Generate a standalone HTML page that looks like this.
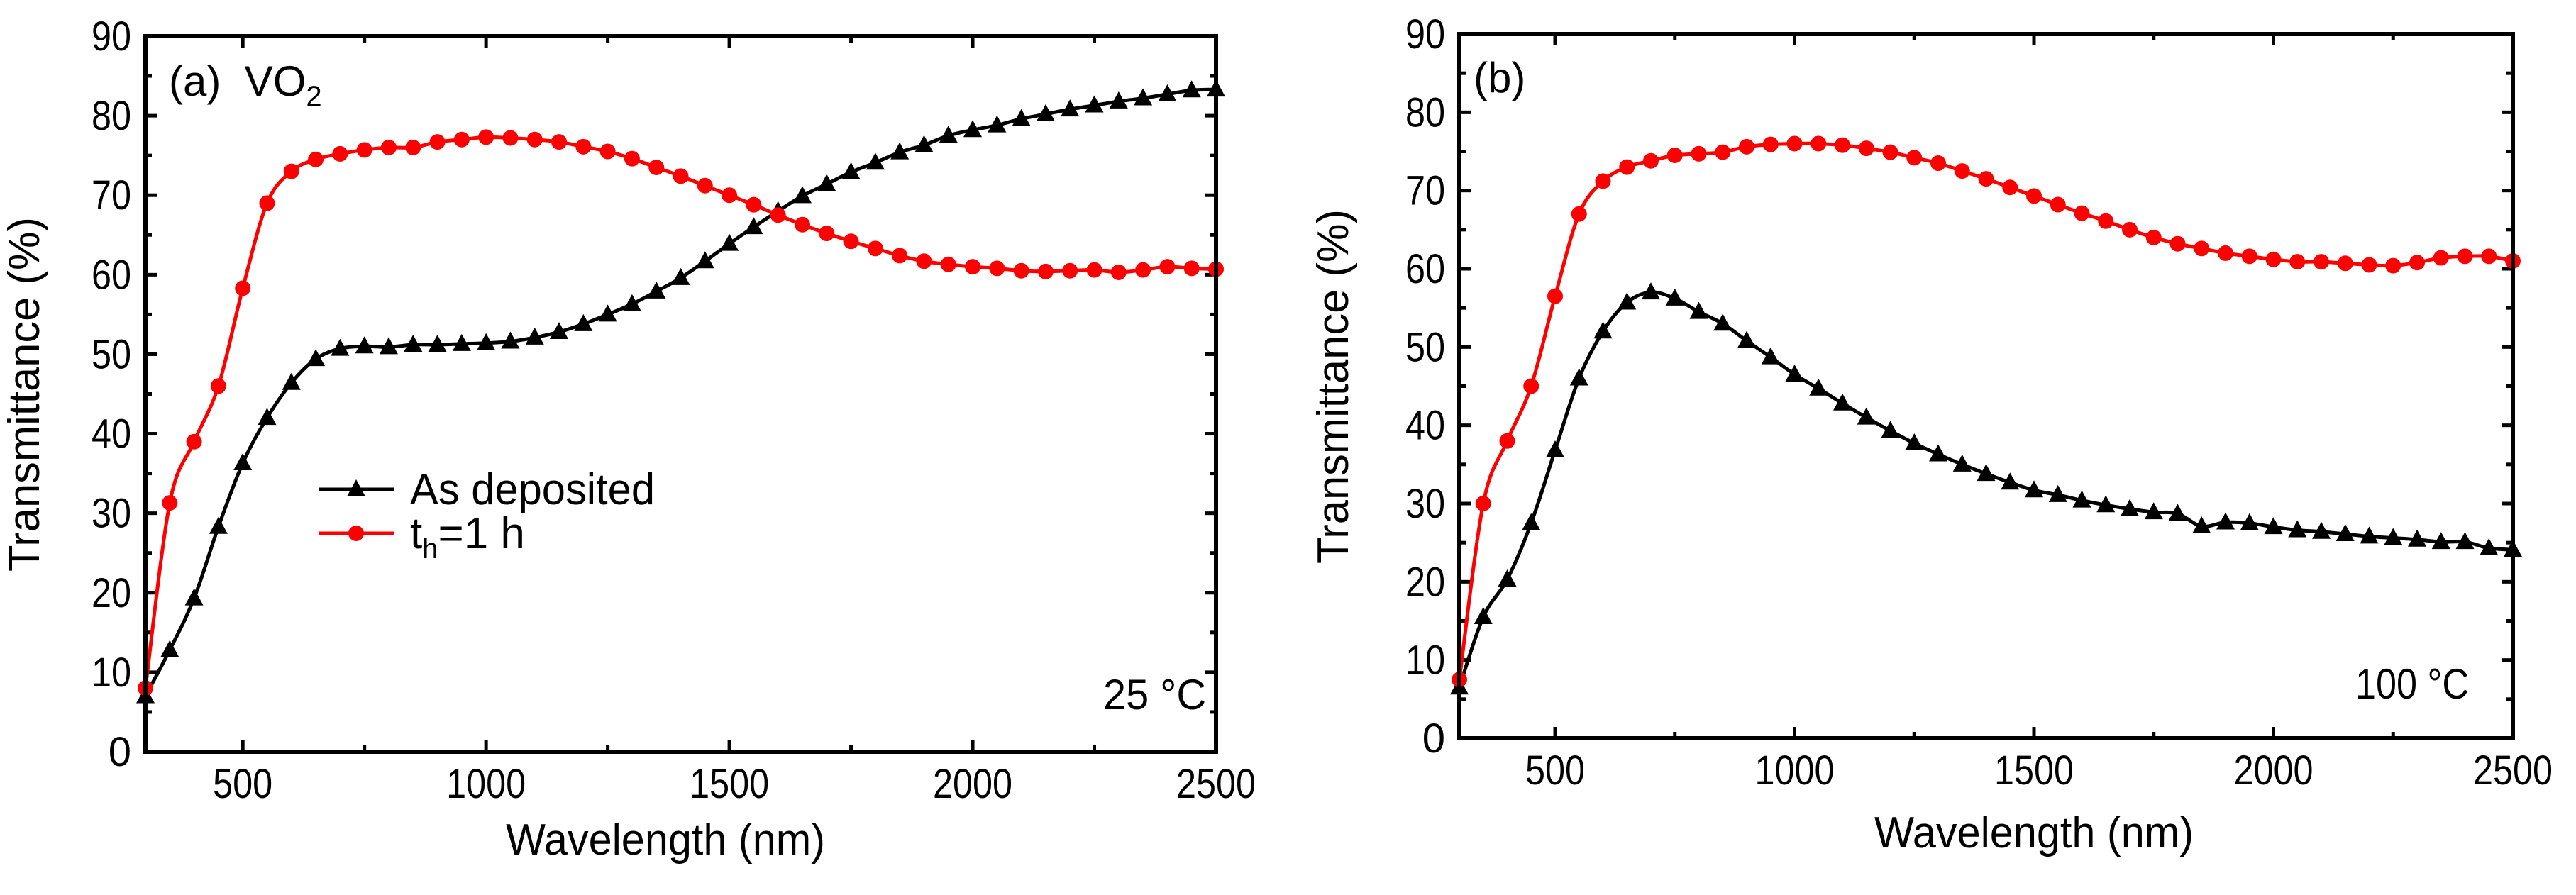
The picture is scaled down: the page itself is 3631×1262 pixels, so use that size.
<!DOCTYPE html>
<html><head><meta charset="utf-8"><style>
html,body{margin:0;padding:0;background:#fff;}
svg text{font-family:"Liberation Sans",sans-serif;fill:#000;}
</style></head><body>
<svg id="chart" width="3631" height="1257" viewBox="0 0 3631 1257" xmlns="http://www.w3.org/2000/svg"></svg>
<script>
const wavelengths = [300,350,400,450,500,550,600,650,700,750,800,850,900,950,1000,1050,1100,1150,1200,1250,1300,1350,1400,1450,1500,1550,1600,1650,1700,1750,1800,1850,1900,1950,2000,2050,2100,2150,2200,2250,2300,2350,2400,2450,2500];
const redA = [8,31.3,39,46,58.3,69,73,74.5,75.2,75.7,76,76,76.7,77,77.3,77.2,77,76.7,76.1,75.5,74.6,73.5,72.4,71.2,70,68.8,67.5,66.3,65.2,64.2,63.3,62.4,61.7,61.3,61,60.8,60.5,60.4,60.5,60.6,60.3,60.6,61,60.8,60.7];
const blackA = [7,12.8,19.3,28.3,36.3,42,46.4,49.4,50.7,51,50.9,51.2,51.2,51.3,51.4,51.6,52.1,52.8,53.8,55,56.3,57.9,59.6,61.7,63.9,66,68,69.9,71.4,72.9,74.1,75.4,76.3,77.5,78.2,78.8,79.6,80.2,80.8,81.3,81.8,82.2,82.7,83.2,83.3];
const redB = [7.5,30,38,45,56.5,67,71.2,73,73.8,74.5,74.7,74.9,75.6,75.9,76,76,75.8,75.4,74.9,74.2,73.5,72.5,71.5,70.4,69.3,68.2,67.1,66.1,65,64,63.2,62.6,62,61.6,61.2,60.9,60.9,60.7,60.5,60.4,60.8,61.4,61.6,61.6,61];
const blackB = [6.5,15.5,20.3,27.5,36.8,46,52,55.7,57,56.2,54.5,53,50.8,48.7,46.5,44.7,42.8,41,39.3,37.7,36.3,35,33.8,32.7,31.7,31.1,30.4,29.8,29.3,28.9,28.7,27.1,27.6,27.5,27,26.6,26.4,26.1,25.8,25.6,25.4,25.1,25.1,24.3,24.1];
const xTicks = [500,1000,1500,2000,2500];
const yTicks = [0,10,20,30,40,50,60,70,80,90];

const NS="http://www.w3.org/2000/svg";
const svg=document.getElementById('chart');
function mk(tag,attrs,parent){const e=document.createElementNS(NS,tag);for(const k in attrs)e.setAttribute(k,attrs[k]);(parent||svg).appendChild(e);return e;}
function smooth(p){
  let d=`M${p[0][0]},${p[0][1]}`;
  for(let i=0;i<p.length-1;i++){
    const p0=p[Math.max(0,i-1)],p1=p[i],p2=p[i+1],p3=p[Math.min(p.length-1,i+2)];
    const c1x=p1[0]+(p2[0]-p0[0])/6,c1y=p1[1]+(p2[1]-p0[1])/6;
    const c2x=p2[0]-(p3[0]-p1[0])/6,c2y=p2[1]-(p3[1]-p1[1])/6;
    d+=` C${c1x},${c1y} ${c2x},${c2y} ${p2[0]},${p2[1]}`;
  }
  return d;
}

function panel(L,R,T,B,red,black,tag){
  const g=mk('g',{});
  
  
  const sx=v=>L+(v-300)/(2200)*(R-L);
  const sy=v=>B-v/90*(B-T);
  for(let v=250;v<=2500;v+=250){
    if(v<300)continue;
    const len=(v%500===0)?16:9;const x=sx(v);
    mk('line',{x1:x,y1:B,x2:x,y2:B-len,stroke:'#000','stroke-width':5},g);
    mk('line',{x1:x,y1:T,x2:x,y2:T+len,stroke:'#000','stroke-width':5},g);
  }
  for(let v=0;v<=90;v+=5){
    const len=(v%10===0)?16:9;const y=sy(v);
    mk('line',{x1:L,y1:y,x2:L+len,y2:y,stroke:'#000','stroke-width':5},g);
    mk('line',{x1:R,y1:y,x2:R-len,y2:y,stroke:'#000','stroke-width':5},g);
  }
  xTicks.forEach(v=>{const t=mk('text',{x:sx(v),y:B+65,'font-size':58,'text-anchor':'middle',textLength:112,lengthAdjust:'spacingAndGlyphs'},g);t.textContent=v;
    if(String(v).length===3)t.setAttribute('textLength',84);
    
    });
  yTicks.forEach(v=>{const t=mk('text',{x:L-20,y:sy(v)+20,'font-size':58,'text-anchor':'end'},g);t.textContent=v;
    if(v>0){t.setAttribute('textLength',56);t.setAttribute('lengthAdjust','spacingAndGlyphs');}
    
    });
  function series(data,color,marker,name){
    const sg=mk('g',{},g);
    
    
    const pts=wavelengths.map((w,i)=>[sx(w),sy(data[i])]);
    mk('path',{d:smooth(pts),fill:'none',stroke:color,'stroke-width':5,'stroke-linejoin':'round'},sg);
    wavelengths.forEach((w,i)=>{
      const x=sx(w),y=sy(data[i]);
      let m;
      if(marker==='circle'){m=mk('circle',{cx:x,cy:y,r:11,fill:color},sg);}
      else{m=mk('polygon',{points:`${x},${y-14} ${x-13},${y+10} ${x+13},${y+10}`,fill:color},sg);}
      
      
    });
  }
  series(black,'#000','tri','as-deposited-series');
  series(red,'#f00','circle','annealed-1h-series');
  const fr=mk('rect',{x:L,y:T,width:R-L,height:B-T,fill:'none',stroke:'#000','stroke-width':6},g);
  
  
  return {sx,sy,g};
}

const a=panel(205,1714,51,1060,redA,blackA,'a');
const b=panel(2057,3542,48,1041,redB,blackB,'b');

function txt(x,y,s,size,anchor,name,rot,len){
  const t=mk('text',{x:x,y:y,'font-size':size,'text-anchor':anchor||'start'});
  if(rot)t.setAttribute('transform',`rotate(-90 ${x} ${y})`);
  if(len){t.setAttribute('textLength',len);t.setAttribute('lengthAdjust','spacingAndGlyphs');}
  t.innerHTML=s;
  
  
  return t;
}
txt(938,1205,'Wavelength (nm)',62,'middle','x-axis-title-a',false,450);
txt(2867,1195,'Wavelength (nm)',62,'middle','x-axis-title-b',false,450);
txt(55,556,'Transmittance (%)',62,'middle','y-axis-title-a',true,500);
txt(1900,545,'Transmittance (%)',62,'middle','y-axis-title-b',true,500);
txt(238,135,'(a)&#160;&#160;VO<tspan font-size="40" dy="14">2</tspan>',60,'start','panel-a-label');
txt(2077,130,'(b)',60,'start','panel-b-label');
txt(1555,1000,'25 °C',60,'start','temperature-25c',false,145);
txt(3320,985,'100 °C',60,'start','temperature-100c',false,160);
const lg=mk('g',{});


mk('line',{x1:450,y1:690,x2:555,y2:690,stroke:'#000','stroke-width':5},lg);
mk('polygon',{points:'502,676 489,700 515,700',fill:'#000'},lg);
mk('line',{x1:450,y1:752,x2:555,y2:752,stroke:'#f00','stroke-width':5},lg);
mk('circle',{cx:502,cy:752,r:11,fill:'#f00'},lg);
const l1=mk('text',{x:578,y:711,'font-size':62,textLength:345,lengthAdjust:'spacingAndGlyphs'},lg);l1.textContent='As deposited';


const l2=mk('text',{x:578,y:773,'font-size':62},lg);l2.innerHTML='t<tspan font-size="40" dy="14">h</tspan><tspan dy="-14">=1 h</tspan>';


</script>
</body></html>
